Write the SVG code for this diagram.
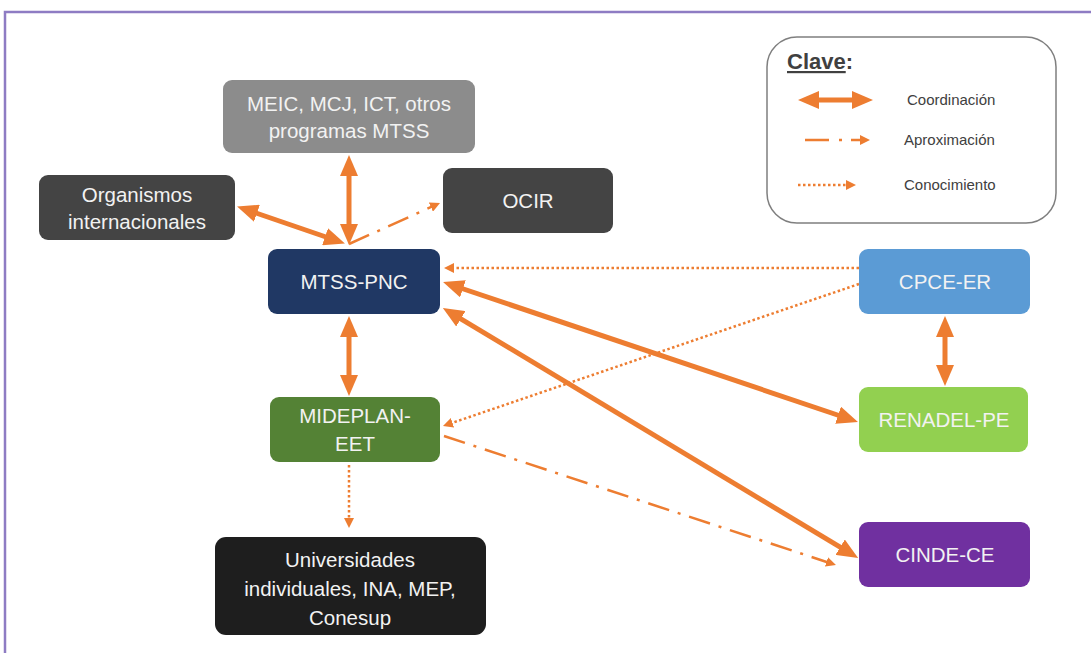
<svg xmlns="http://www.w3.org/2000/svg" width="1091" height="653" viewBox="0 0 1091 653">
<style>
.node text{font-family:"Liberation Sans",Arial,sans-serif;font-size:20.5px;fill:#f2f2f2;text-anchor:middle}
.coord{stroke:#ed7d31;stroke-width:5;fill:none;marker-start:url(#big);marker-end:url(#big)}
.aprox{stroke:#ed7d31;stroke-width:2.5;fill:none;stroke-dasharray:22 9 3 9;marker-end:url(#small)}
.conoc{stroke:#ed7d31;stroke-width:2.5;fill:none;stroke-dasharray:2.5 2.5;marker-end:url(#small)}
.leg{font-family:"Liberation Sans",Arial,sans-serif;font-size:15px;fill:#404040}
</style>
<defs>
<marker id="big" viewBox="0 0 21 18" refX="1" refY="9" markerWidth="21" markerHeight="18" markerUnits="userSpaceOnUse" orient="auto-start-reverse"><path d="M0,0 L21,9 L0,18 z" fill="#ed7d31"/></marker>
<marker id="small" viewBox="0 0 10 10" refX="1" refY="5" markerWidth="10" markerHeight="10" markerUnits="userSpaceOnUse" orient="auto"><path d="M0,0 L10,5 L0,10 z" fill="#ed7d31"/></marker>
</defs>
<rect width="1091" height="653" fill="#ffffff"/>
<path d="M5,653 L5,12 L1091,12" fill="none" stroke="#8e7cc3" stroke-width="2.5"/>

<g id="legend">
<rect x="767" y="37" width="289" height="186" rx="30" fill="#fff" stroke="#7f7f7f" stroke-width="1.5"/>
<text x="787" y="69" font-family="'Liberation Sans',Arial,sans-serif" font-size="22" font-weight="bold" fill="#404040"><tspan text-decoration="underline">Clave</tspan>:</text>
<line x1="818" y1="100" x2="853" y2="100" class="coord"/>
<text x="907" y="105" class="leg">Coordinación</text>
<line x1="805" y1="140" x2="861" y2="140" stroke="#ed7d31" stroke-width="2.5" stroke-dasharray="24 10 3 9" marker-end="url(#small)"/>
<text x="904" y="145" class="leg">Aproximación</text>
<line x1="798" y1="185" x2="847" y2="185" class="conoc"/>
<text x="904" y="190" class="leg">Conocimiento</text>
</g>

<g id="connectors">
<line x1="349" y1="175" x2="349" y2="225" class="coord"/>
<line x1="256" y1="213" x2="326" y2="237" class="coord"/>
<line x1="349" y1="244" x2="431.8" y2="206.7" class="aprox"/>
<line x1="859" y1="268" x2="453" y2="268" class="conoc"/>
<line x1="859" y1="284" x2="451.5" y2="423.1" class="conoc"/>
<line x1="462" y1="288.5" x2="839" y2="415.5" class="coord"/>
<line x1="460" y1="318.3" x2="841" y2="547.7" class="coord"/>
<line x1="349" y1="336" x2="349" y2="376" class="coord"/>
<line x1="945" y1="336" x2="945" y2="366" class="coord"/>
<line x1="444" y1="436" x2="827.4" y2="562.2" class="aprox"/>
<line x1="349" y1="465" x2="349" y2="519" class="conoc"/>
</g>

<g id="meic" class="node"><rect x="223" y="80" width="252" height="73" rx="9" fill="#8c8c8c"/><text x="349" y="111">MEIC, MCJ, ICT, otros</text><text x="349" y="138">programas MTSS</text></g>
<g id="organismos" class="node"><rect x="39" y="175" width="196" height="65" rx="9" fill="#444444"/><text x="137" y="202">Organismos</text><text x="137" y="229">internacionales</text></g>
<g id="ocir" class="node"><rect x="443" y="168" width="170" height="65" rx="9" fill="#444444"/><text x="528" y="208">OCIR</text></g>
<g id="mtss" class="node"><rect x="268" y="249" width="172" height="65" rx="9" fill="#203864"/><text x="354" y="289">MTSS-PNC</text></g>
<g id="mideplan" class="node"><rect x="270" y="397" width="170" height="65" rx="9" fill="#548235"/><text x="355" y="423">MIDEPLAN-</text><text x="355" y="451">EET</text></g>
<g id="universidades" class="node"><rect x="215" y="537" width="271" height="98" rx="11" fill="#1e1e1e"/><text x="350" y="567">Universidades</text><text x="350" y="596">individuales, INA, MEP,</text><text x="350" y="625">Conesup</text></g>
<g id="cpce" class="node"><rect x="859" y="249" width="171" height="65" rx="9" fill="#5b9bd5"/><text x="945" y="289">CPCE-ER</text></g>
<g id="renadel" class="node"><rect x="859" y="387" width="169" height="65" rx="9" fill="#92d050"/><text x="944" y="427">RENADEL-PE</text></g>
<g id="cinde" class="node"><rect x="859" y="522" width="171" height="65" rx="9" fill="#7030a0"/><text x="945" y="562">CINDE-CE</text></g>
</svg>
